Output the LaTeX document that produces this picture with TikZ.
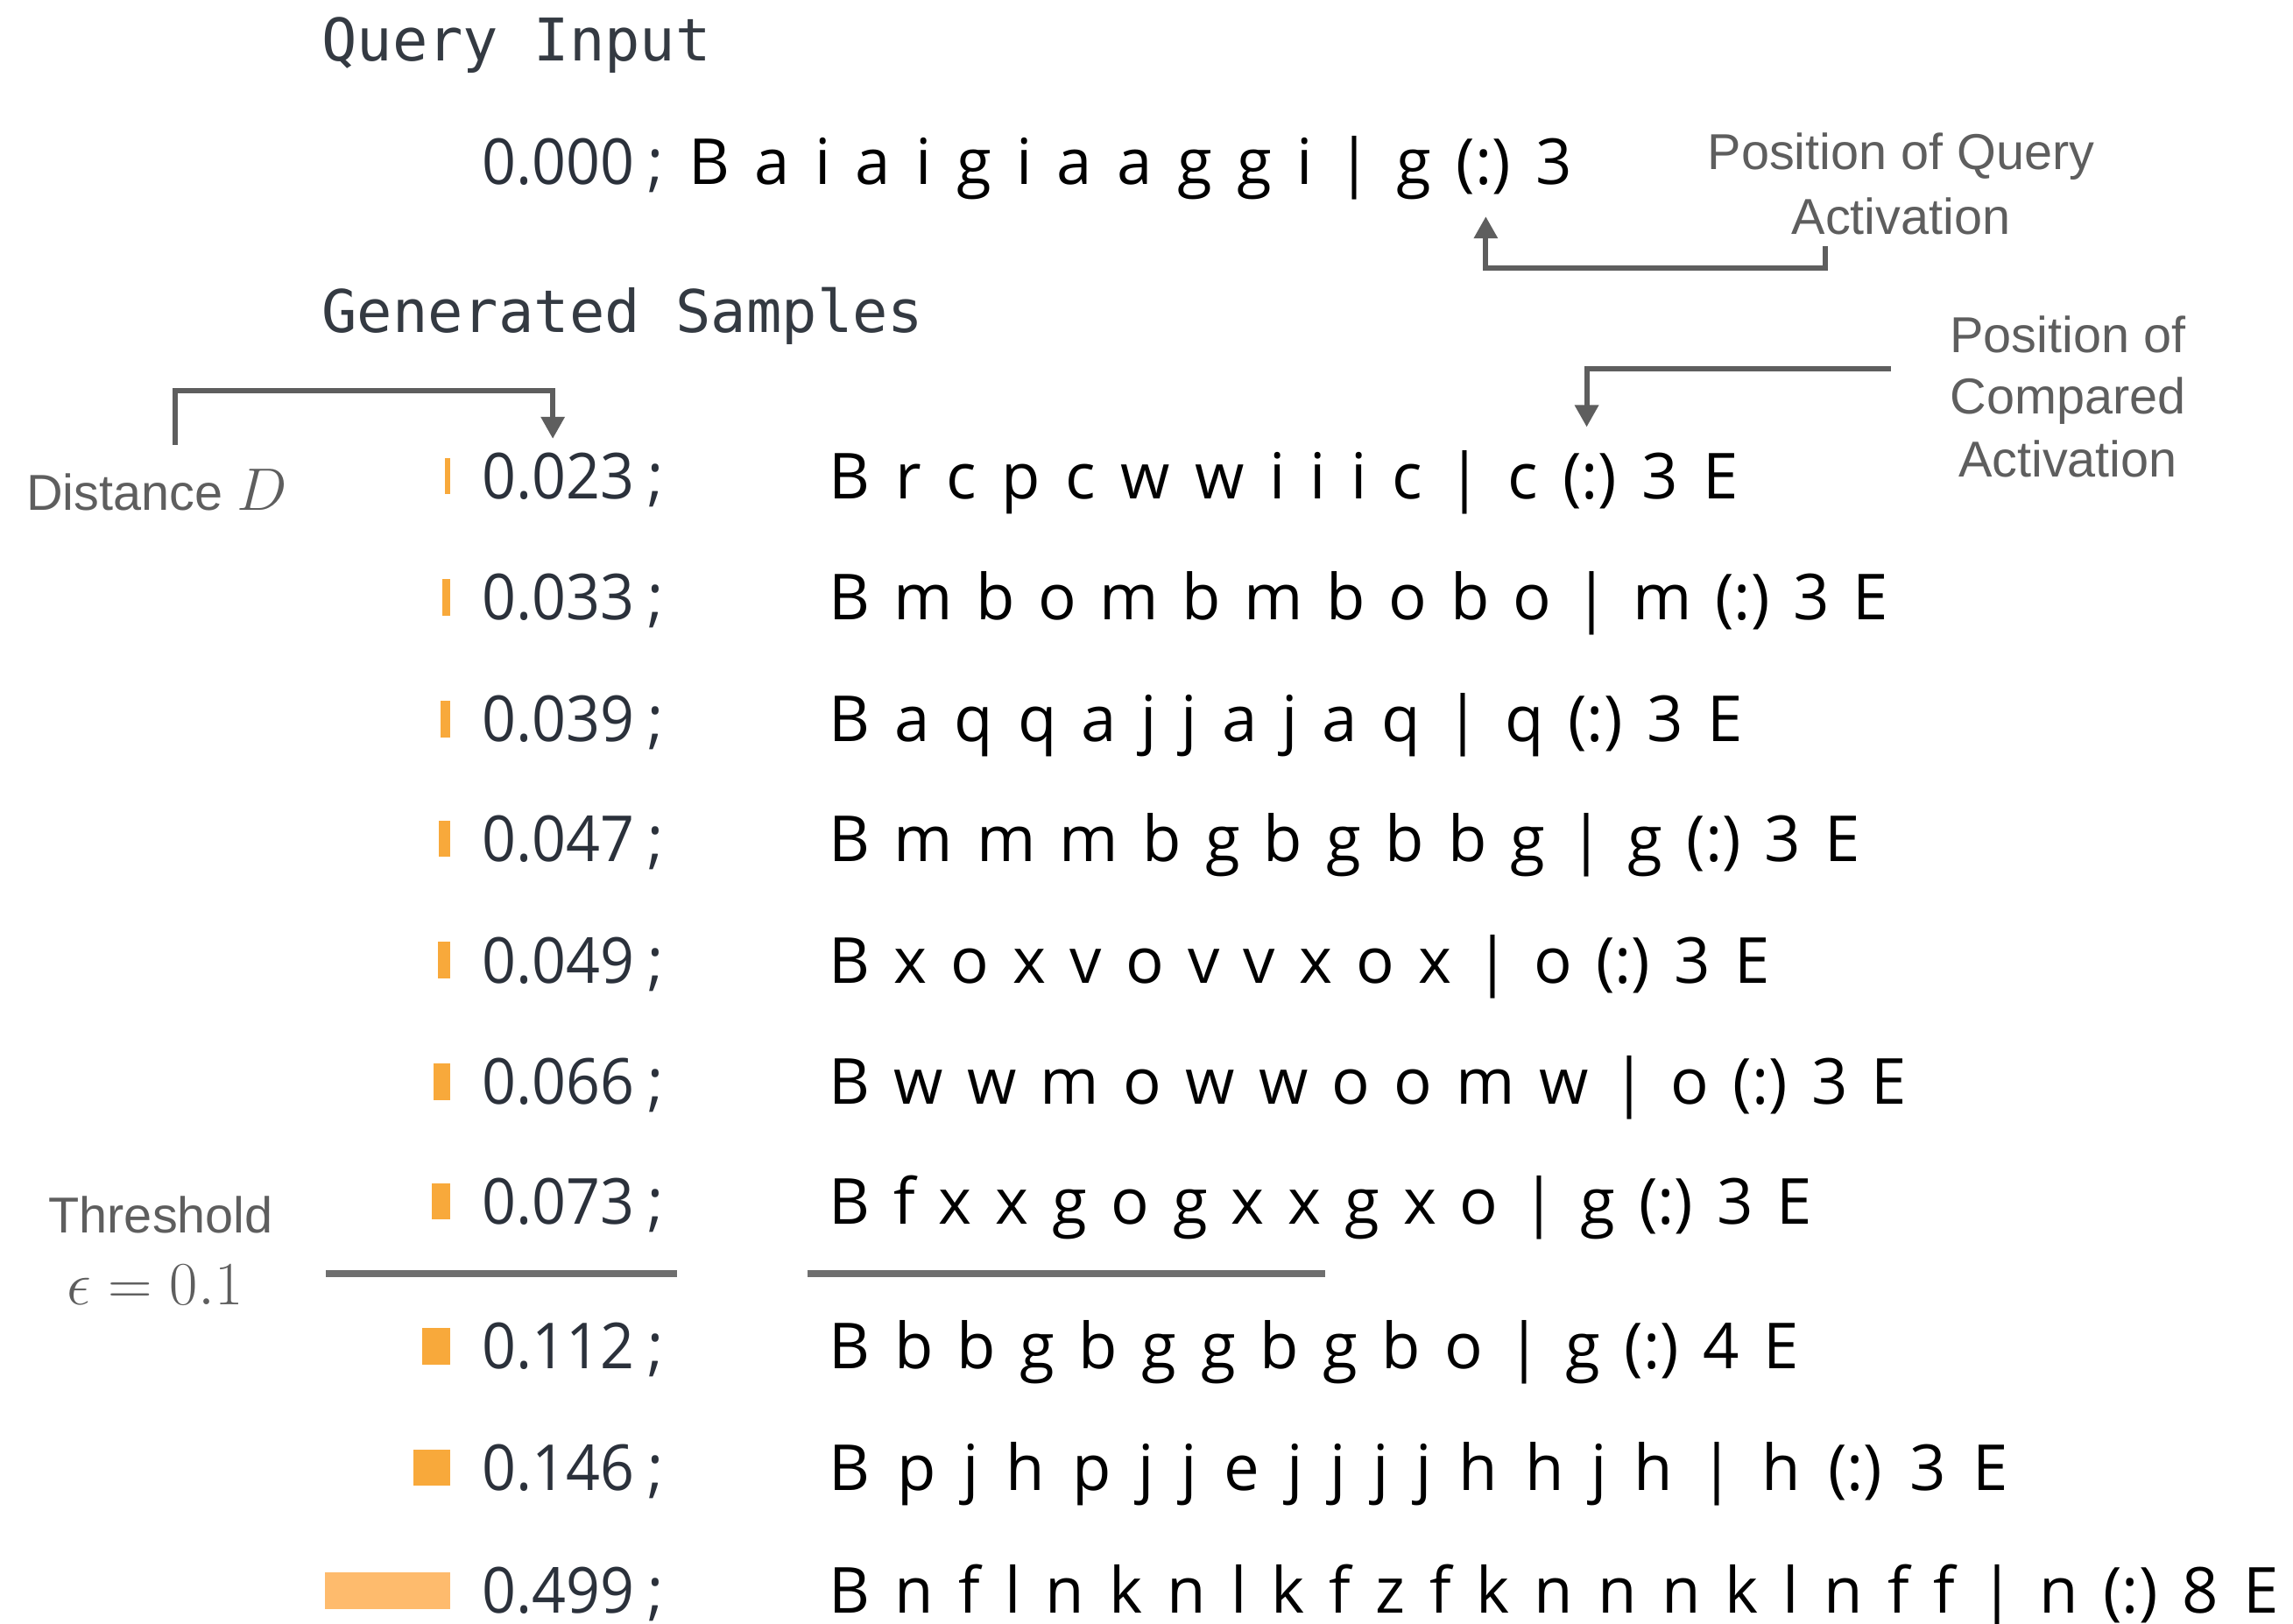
\RequirePackage{fix-cm}
\documentclass[tikz,border=0pt]{standalone}
\usepackage{fontspec}
\setmainfont{Open Sans}
\newfontfamily\labfont{Liberation Sans}
\newfontfamily\monofont{DejaVu Sans Mono}
\newfontfamily\numfont[FakeStretch=0.94]{Open Sans}
\usetikzlibrary{arrows.meta}
\definecolor{labgray}{HTML}{5E5E5E}
\definecolor{slate}{HTML}{2B313B}
\definecolor{barA}{HTML}{F8A93B}
\definecolor{barB}{HTML}{FEBB6D}
\definecolor{rulegray}{HTML}{6F6F6F}
\definecolor{titlecol}{HTML}{343A42}
\tikzset{
  txt/.style={inner sep=0pt, outer sep=0pt},
  rowtxt/.style={txt, font=\fontsize{43.4}{52}\selectfont, text=black},
  numtxt/.style={txt, font=\numfont\fontsize{43.4}{52}\selectfont, text=slate},
  lab/.style={txt, font=\labfont\fontsize{34.5}{44}\selectfont, text=labgray},
  titletxt/.style={txt, font=\monofont\fontsize{40.2}{48}\selectfont, text=titlecol},
  pointer/.style={draw=labgray, line width=3.6pt, -{Triangle[width=15.6pt,length=15pt]}},
  threshrule/.style={draw=rulegray, line width=4.6pt}
}
\newcommand{\spreadrow}[2]{\hbox to #1pt{\frenchspacing\spaceskip=0pt plus 1fil\relax #2}}
\begin{document}
\begin{tikzpicture}[x=1pt,y=-1pt]
\fill[white] (0,0) rectangle (1568,1110.4);
\useasboundingbox (0,0) rectangle (1568,1110.4);

% titles
\node[titletxt, anchor=base west] (qtitle) at (220,41.5) {Query Input};
\node[titletxt, anchor=base west] (gtitle) at (220,227) {Generated Samples};

% query row
\node[numtxt, anchor=base west] (qnum) at (329.5,126) {0.000\hspace{9pt};};
\node[rowtxt, anchor=base west] (qrow) at (471,126) {\spreadrow{604}{B a i a i g i a a g g i | g (:) 3}};

% samples
\foreach \i/\d/\b/\w/\col/\txt in {
  1/0.023/341/622/barA/{B r c p c w w i i i c | c (:) 3 E},
  2/0.033/424/724/barA/{B m b o m b m b o b o | m (:) 3 E},
  3/0.039/507/625/barA/{B a q q a j j a j a q | q (:) 3 E},
  4/0.047/589/705/barA/{B m m m b g b g b b g | g (:) 3 E},
  5/0.049/672/643/barA/{B x o x v o v v x o x | o (:) 3 E},
  6/0.066/755/737/barA/{B w w m o w w o o m w | o (:) 3 E},
  7/0.073/837/672/barA/{B f x x g o g x x g x o | g (:) 3 E},
  8/0.112/936/663/barA/{B b b g b g g b g b o | g (:) 4 E},
  9/0.146/1019/806/barA/{B p j h p j j e j j j j h h j h | h (:) 3 E},
  10/0.499/1103/991/barB/{B n f l n k n l k f z f k n n n k l n f f | n (:) 8 E}}{
  \fill[\col] ({308-172*\d},\b-28) rectangle (308,\b-3);
  \node[numtxt, anchor=base west] (num\i) at (329.5,\b) {\d\hspace{9pt};};
  \node[rowtxt, anchor=base west] (row\i) at (567,\b) {\spreadrow{\w}{\txt}};
}

% threshold rules
\coordinate (tl1) at (223,871); \coordinate (tl2) at (463,871);
\coordinate (tr1) at (552,871); \coordinate (tr2) at (906,871);
\draw[threshrule] (tl1) -- (tl2);
\draw[threshrule] (tr1) -- (tr2);

% labels
\node[lab, anchor=base] (pq1) at (1300,116) {Position of Query};
\node[lab, anchor=base] (pq2) at (1300,160) {Activation};
\node[lab, anchor=base] (pc1) at (1414,241) {Position of};
\node[lab, anchor=base] (pc2) at (1414,283) {Compared};
\node[lab, anchor=base] (pc3) at (1414,326) {Activation};
\node[lab, anchor=base west] (dist) at (18,349) {Distance {\fontsize{41}{48}\selectfont$D$}};
\node[lab, anchor=base] (thr) at (110,843) {Threshold};
\node[lab, anchor=base] (eps) at (106,892) {\fontsize{42}{48}\selectfont$\epsilon=0.1$};

% pointers
\coordinate (qstart) at (1248,168);
\coordinate (qtip) at (1016,148);
\draw[pointer] (qstart) -- ++(0,15) -| (qtip);
\coordinate (cstart) at (1293,252);
\coordinate (ctip) at (1085,292);
\draw[pointer] (cstart) -| (ctip);
\coordinate (dstart) at (120,304);
\coordinate (dtip) at (378,300);
\draw[pointer] (dstart) -- ++(0,-37) -| (dtip);
\end{tikzpicture}
\end{document}
